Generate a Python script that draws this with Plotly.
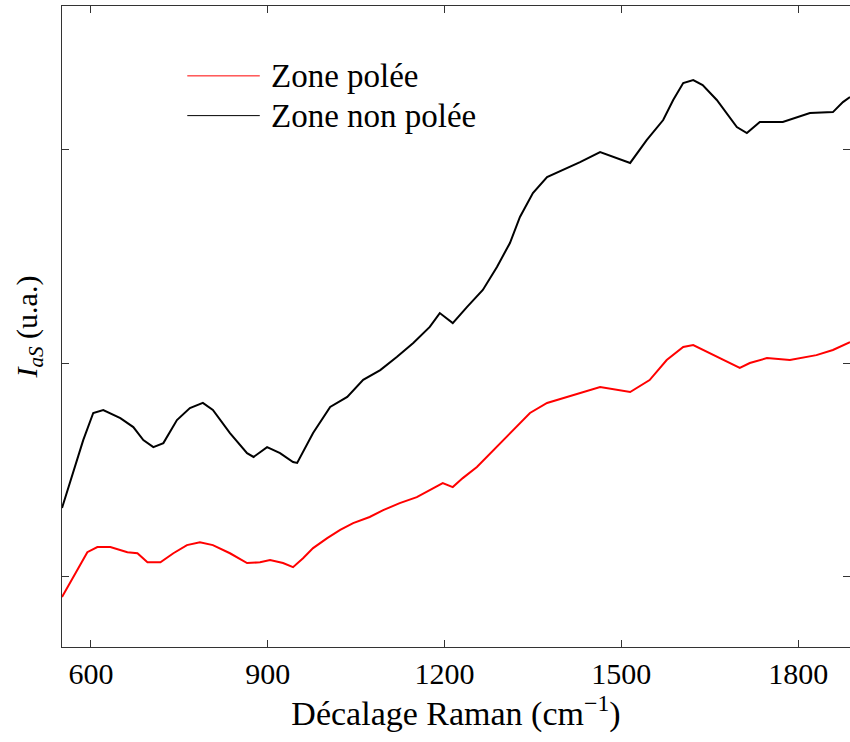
import plotly.graph_objects as go

# Raman shift (cm-1) and intensity (a.u.)
x_polee = [551, 577, 594, 611, 633, 662, 679, 696, 718, 740, 763, 785, 807, 836, 865, 887,
           904, 926, 943, 960, 977, 1001, 1023, 1045, 1073, 1096, 1124, 1153, 1180, 1197,
           1214, 1231, 1255, 1289, 1316, 1345, 1374, 1401, 1430, 1464, 1515, 1548, 1577,
           1605, 1622, 1645, 1672, 1701, 1718, 1747, 1786, 1831, 1859, 1888]
y_polee = [0.905, 1.031, 1.115, 1.139, 1.139, 1.115, 1.110, 1.068, 1.068, 1.110, 1.148,
           1.162, 1.148, 1.110, 1.064, 1.068, 1.078, 1.064, 1.045, 1.087, 1.134, 1.181,
           1.219, 1.251, 1.280, 1.312, 1.345, 1.373, 1.415, 1.439, 1.420, 1.462, 1.514,
           1.608, 1.687, 1.767, 1.814, 1.837, 1.861, 1.889, 1.865, 1.921, 2.015, 2.076,
           2.085, 2.053, 2.015, 1.978, 2.001, 2.024, 2.015, 2.038, 2.062, 2.099]

x_non_polee = [551, 570, 587, 604, 621, 650, 672, 689, 706, 723, 746, 768, 790, 807, 836,
               865, 876, 899, 921, 943, 950, 977, 1006, 1035, 1062, 1091, 1119, 1147, 1175,
               1192, 1214, 1238, 1265, 1289, 1311, 1328, 1350, 1374, 1401, 1430, 1464, 1515,
               1543, 1571, 1588, 1605, 1622, 1638, 1662, 1679, 1696, 1713, 1735, 1774, 1820,
               1859, 1876, 1888]
y_non_polee = [1.322, 1.486, 1.640, 1.767, 1.781, 1.743, 1.701, 1.640, 1.607, 1.626, 1.734,
               1.790, 1.814, 1.781, 1.673, 1.579, 1.561, 1.607, 1.579, 1.537, 1.533, 1.673,
               1.795, 1.842, 1.922, 1.968, 2.029, 2.095, 2.170, 2.235, 2.188, 2.263, 2.343,
               2.451, 2.563, 2.685, 2.797, 2.872, 2.905, 2.942, 2.989, 2.938, 3.045, 3.139,
               3.233, 3.312, 3.326, 3.303, 3.233, 3.172, 3.106, 3.078, 3.130, 3.130, 3.172,
               3.176, 3.223, 3.247]

FONT = "Liberation Serif"

fig = go.Figure()
fig.add_trace(go.Scatter(x=x_polee, y=y_polee, mode="lines", name="Zone polée",
                         line=dict(color="#ff0000", width=2)))
fig.add_trace(go.Scatter(x=x_non_polee, y=y_non_polee, mode="lines", name="Zone non polée",
                         line=dict(color="#000000", width=2)))

# legend drawn by hand so the line samples are as long as in the reference
legend = [("Zone polée", "#ff0000", 0.891), ("Zone non polée", "#000000", 0.829)]
for label, color, yy in legend:
    fig.add_shape(type="line", xref="paper", yref="paper",
                  x0=0.159, x1=0.251, y0=yy, y1=yy, line=dict(color=color, width=1))
    fig.add_annotation(xref="paper", yref="paper", x=0.263, y=yy, text=label,
                       showarrow=False, xanchor="left", yanchor="middle",
                       font=dict(family=FONT, size=33, color="black"))

fig.update_layout(
    width=850, height=742,
    margin=dict(l=62, r=0, t=6, b=95),
    plot_bgcolor="white", paper_bgcolor="white",
    showlegend=False,
    font=dict(family=FONT, size=30, color="black"),
)
fig.update_xaxes(
    range=[551, 1888], tickvals=[600, 900, 1200, 1500, 1800], automargin=False,
    ticks="inside", ticklen=7, tickcolor="#333", showline=True, linecolor="#333",
    mirror="ticks", showgrid=False, zeroline=False, tickfont=dict(family=FONT, size=30),
    title=dict(text="Décalage Raman (cm<sup>−1</sup>)", standoff=8,
               font=dict(family=FONT, size=34)),
)
fig.update_yaxes(
    range=[0.671, 3.673], tickvals=[1, 2, 3], showticklabels=False, automargin=False,
    ticks="inside", ticklen=7, tickcolor="#333", showline=True, linecolor="#333",
    mirror="ticks", showgrid=False, zeroline=False,
    title=dict(text="<i>I</i><sub><i>aS</i></sub> (u.a.)", standoff=14,
               font=dict(family=FONT, size=30)),
)

# page body has a default 8px margin; drop it and pin the figure to 850x742
fix_page = (
    "document.body.style.margin='0';"
    "Plotly.relayout(document.getElementById('{plot_id}'), {width: 850, height: 742});"
)
fig.write_html("out.html", post_script=fix_page, config={"displayModeBar": False})
